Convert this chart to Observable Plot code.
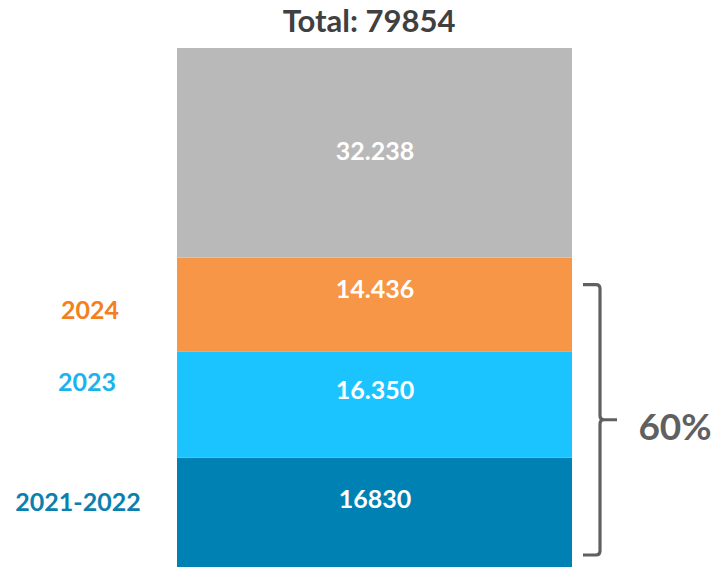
<!DOCTYPE html>
<html>
<head>
<meta charset="utf-8">
<script src="https://cdn.jsdelivr.net/npm/d3@7"></script>
<script src="https://cdn.jsdelivr.net/npm/@observablehq/plot@0.6"></script>
<style>
  html, body { margin: 0; padding: 0; background: #fff; }
  #chart { width: 717px; height: 567px; }
</style>
</head>
<body>
<div id="chart"></div>
<script>
// Data (bottom to top)
const segments = ["2021-2022", "2023", "2024", "Other"];
const values = [16830, 16350, 14436, 32238];
const valueLabels = ["16830", "16.350", "14.436", "32.238"];
const sideLabels = ["2021-2022", "2023", "2024", ""];
const total = 79854;
const shareLabel = "60%";
const titleText = "Total: " + total;

const colors = ["#0081B4", "#1BC4FF", "#F79646", "#B9B9B9"];
const sideColors = ["#0A80B0", "#1AB4EC", "#F47F20", "#B9B9B9"];

const data = segments.map((s, i) => ({
  bar: "Total", segment: s, value: values[i], label: valueLabels[i], side: sideLabels[i], idx: i
}));
const midOf = d => values.slice(0, d.idx).reduce((a, b) => a + b, 0) + d.value / 2;

const font = "Lato, 'Open Sans', sans-serif";
const valueDy = [-13, -14, -15, -1];
const sideDy = [-10, -22, 6, 0];
const sideDx = [-297, -288, -285, 0];

const brace = (index, scales, values_, dims) => {
  const y = scales.y;
  const yTop = y(values[0] + values[1] + values[2]) + 27;
  const yBot = y(0) - 12;
  const xr = dims.width - dims.marginRight;
  const xLine = xr + 28, xHook = xr + 11, xTip = xr + 45;
  const mid = (yTop + yBot) / 2;
  const r = 4;
  const p = d3.path();
  p.moveTo(xHook, yTop);
  p.lineTo(xLine - r, yTop);
  p.quadraticCurveTo(xLine, yTop, xLine, yTop + r);
  p.lineTo(xLine, mid - r);
  p.quadraticCurveTo(xLine, mid, xLine + r, mid);
  p.lineTo(xTip, mid);
  p.moveTo(xLine + r, mid);
  p.quadraticCurveTo(xLine, mid, xLine, mid + r);
  p.lineTo(xLine, yBot - r);
  p.quadraticCurveTo(xLine, yBot, xLine - r, yBot);
  p.lineTo(xHook, yBot);
  const g = d3.create("svg:g");
  g.append("path").attr("d", p.toString()).attr("fill", "none")
    .attr("stroke", "#606060").attr("stroke-width", 3.2)
    .attr("stroke-linecap", "butt").attr("stroke-linejoin", "round");
  g.append("text").attr("x", xTip + 58).attr("y", mid + 11)
    .attr("text-anchor", "middle").attr("dominant-baseline", "middle")
    .attr("fill", "#606060").attr("font-family", font).attr("font-weight", 700)
    .attr("font-size", 37).text(shareLabel);
  return g.node();
};

const plot = Plot.plot({
  width: 717,
  height: 567,
  marginTop: 48,
  marginBottom: 0,
  marginLeft: 177,
  marginRight: 145,
  style: { fontFamily: font, background: "#fff", overflow: "visible" },
  x: { domain: ["Total"], padding: 0, axis: null },
  y: { domain: [0, total], axis: null },
  color: { domain: segments, range: colors },
  marks: [
    Plot.barY(data, Plot.stackY({ x: "bar", y: "value", fill: "segment", order: null, inset: 0 })),
    ...data.map((d) => Plot.text([d], {
      x: "bar", y: midOf, text: "label", fill: "white",
      fontSize: 25, fontWeight: 700, dy: valueDy[d.idx]
    })),
    ...data.filter(d => d.side).map((d) => Plot.text([d], {
      x: "bar", y: midOf,
      text: "side", fill: sideColors[d.idx],
      fontSize: 25, fontWeight: 700, dx: sideDx[d.idx], dy: sideDy[d.idx]
    })),
    Plot.text([titleText], {
      x: () => "Total", y: () => total, text: d => d,
      fontSize: 31, fontWeight: 700, fill: "#404040", dy: -26, dx: -6
    }),
    brace
  ]
});
document.getElementById("chart").appendChild(plot);
</script>
</body>
</html>
